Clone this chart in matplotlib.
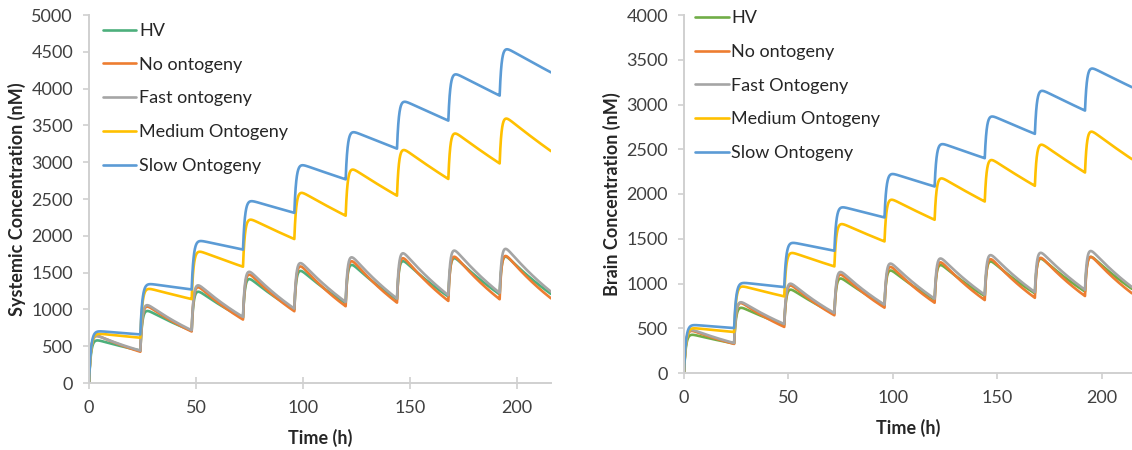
import numpy as np
import matplotlib
matplotlib.use("Agg")
import matplotlib.pyplot as plt

plt.rcParams['font.family'] = ['Lato', 'DejaVu Sans']

# ---------------- data ----------------
dose_times = [0, 24, 48, 72, 96, 120, 144, 168, 192]
series_names = ["HV", "No ontogeny", "Fast ontogeny", "Medium Ontogeny", "Slow Ontogeny"]
series_names_brain = ["HV", "No ontogeny", "Fast Ontogeny", "Medium Ontogeny", "Slow Ontogeny"]

# Systemic concentration (nM): peak after each dose, trough before next dose (last = value at end of axis)
sys_end_time = 216
sys_hv_peak = [590, 990, 1250, 1420, 1530, 1610, 1660, 1700, 1720]
sys_hv_trough = [440, 710, 885, 1000, 1085, 1135, 1175, 1205, 1210]
sys_no_peak = [655, 1050, 1310, 1480, 1590, 1660, 1700, 1720, 1730]
sys_no_trough = [425, 700, 862, 975, 1043, 1092, 1115, 1138, 1150]
sys_fast_peak = [650, 1070, 1337, 1519, 1636, 1713, 1768, 1804, 1827]
sys_fast_trough = [440, 716, 898, 1011, 1101, 1147, 1192, 1224, 1240]
sys_med_peak = [675, 1290, 1797, 2233, 2597, 2913, 3178, 3402, 3604]
sys_med_trough = [615, 1140, 1580, 1956, 2273, 2545, 2772, 2983, 3150]
sys_slow_peak = [708, 1352, 1940, 2483, 2972, 3421, 3835, 4207, 4548]
sys_slow_trough = [660, 1271, 1813, 2312, 2767, 3184, 3565, 3905, 4220]

# Brain concentration (nM)
brain_end_time = 214.5
brain_hv_peak = [435, 737, 938, 1062, 1150, 1210, 1250, 1280, 1300]
brain_hv_trough = [330, 540, 665, 760, 820, 860, 890, 910, 940]
brain_no_peak = [480, 790, 985, 1105, 1190, 1240, 1275, 1290, 1300]
brain_no_trough = [325, 515, 645, 730, 785, 815, 840, 860, 890]
brain_fast_peak = [490, 800, 1005, 1135, 1228, 1284, 1321, 1347, 1366]
brain_fast_trough = [335, 547, 670, 763, 830, 874, 904, 930, 960]
brain_med_peak = [505, 975, 1351, 1674, 1946, 2184, 2389, 2560, 2705]
brain_med_trough = [458, 856, 1191, 1470, 1712, 1916, 2091, 2240, 2389]
brain_slow_peak = [540, 1012, 1462, 1860, 2233, 2567, 2876, 3163, 3412]
brain_slow_trough = [502, 960, 1366, 1738, 2084, 2400, 2672, 2932, 3193]

sys_colors = ["#4DAF7C", "#ED7D31", "#A5A5A5", "#FFC000", "#5B9BD5"]
brain_colors = ["#70AD47", "#ED7D31", "#A5A5A5", "#FFC000", "#5B9BD5"]


def build_curve(peaks, troughs, end_time, t_peak=3.5, ka=1.1):
    """Multiple-dose profile through the read peak / trough values."""
    ts, cs = [], []
    start = 0.0
    for i, t0 in enumerate(dose_times):
        t1 = dose_times[i + 1] if i + 1 < len(dose_times) else end_time
        L = t1 - t0
        tau = np.linspace(0, L, 240)
        P, E = peaks[i], troughs[i]
        decline = P * (E / P) ** ((tau - t_peak) / (L - t_peak))
        c = decline + (start - decline) * np.exp(-ka * tau)
        ts.append(t0 + tau)
        cs.append(c)
        start = E
    return np.concatenate(ts), np.concatenate(cs)


fig = plt.figure(figsize=(11.32, 4.5), dpi=100)
ax1 = fig.add_axes([89 / 1132, 1 - 383 / 450, (551 - 89) / 1132, (383 - 15) / 450])
ax2 = fig.add_axes([684 / 1132, 1 - 373 / 450, (1132 - 684) / 1132, (373 - 15) / 450])

sys_data = [(sys_hv_peak, sys_hv_trough), (sys_no_peak, sys_no_trough),
            (sys_fast_peak, sys_fast_trough), (sys_med_peak, sys_med_trough),
            (sys_slow_peak, sys_slow_trough)]
brain_data = [(brain_hv_peak, brain_hv_trough), (brain_no_peak, brain_no_trough),
              (brain_fast_peak, brain_fast_trough), (brain_med_peak, brain_med_trough),
              (brain_slow_peak, brain_slow_trough)]

for (pk, tr), name, col in zip(sys_data, series_names, sys_colors):
    t, c = build_curve(pk, tr, sys_end_time)
    ax1.plot(t, c, color=col, lw=1.9, label=name, solid_capstyle='round')

for (pk, tr), name, col in zip(brain_data, series_names_brain, brain_colors):
    t, c = build_curve(pk, tr, brain_end_time)
    ax2.plot(t, c, color=col, lw=1.9, label=name, solid_capstyle='round')

tick_col = "#404040"
spine_col = "#D0D0D0"

for ax, xmax, ymax, ylab in [(ax1, sys_end_time, 5000, "Systemic Concentration (nM)"),
                              (ax2, brain_end_time, 4000, "Brain Concentration (nM)")]:
    ax.set_xlim(0, xmax)
    ax.set_ylim(0, ymax)
    ax.set_xticks([0, 50, 100, 150, 200])
    ax.set_yticks(np.arange(0, ymax + 1, 500))
    for s in ['top', 'right']:
        ax.spines[s].set_visible(False)
    for s in ['left', 'bottom']:
        ax.spines[s].set_color(spine_col)
        ax.spines[s].set_linewidth(1.4)
    ax.tick_params(axis='both', colors=spine_col, labelcolor=tick_col, labelsize=13,
                   length=4.5, width=1.2)
    ax.tick_params(axis='y', pad=7)
    ax.tick_params(axis='x', pad=8)
    ax.set_xlabel("Time (h)", fontsize=13, fontweight='bold', color='#262626', labelpad=9)
    ax.set_ylabel(ylab, fontsize=13, fontweight='bold', color='#262626', labelpad=4)
    ax.set_facecolor('none')

ax1.tick_params(axis='x', direction='inout', length=9)

leg1 = ax1.legend(loc='upper left', bbox_to_anchor=(0.03, 0.978), frameon=False,
                  fontsize=13, handlelength=1.85, handletextpad=0.15, labelspacing=0.98,
                  borderaxespad=0, borderpad=0)
leg2 = ax2.legend(loc='upper left', bbox_to_anchor=(0.025, 1.013), frameon=False,
                  fontsize=13, handlelength=1.85, handletextpad=0.15, labelspacing=0.98,
                  borderaxespad=0, borderpad=0)
for leg in (leg1, leg2):
    for txt in leg.get_texts():
        txt.set_color('#262626')

fig.savefig("out.png", dpi=100)
